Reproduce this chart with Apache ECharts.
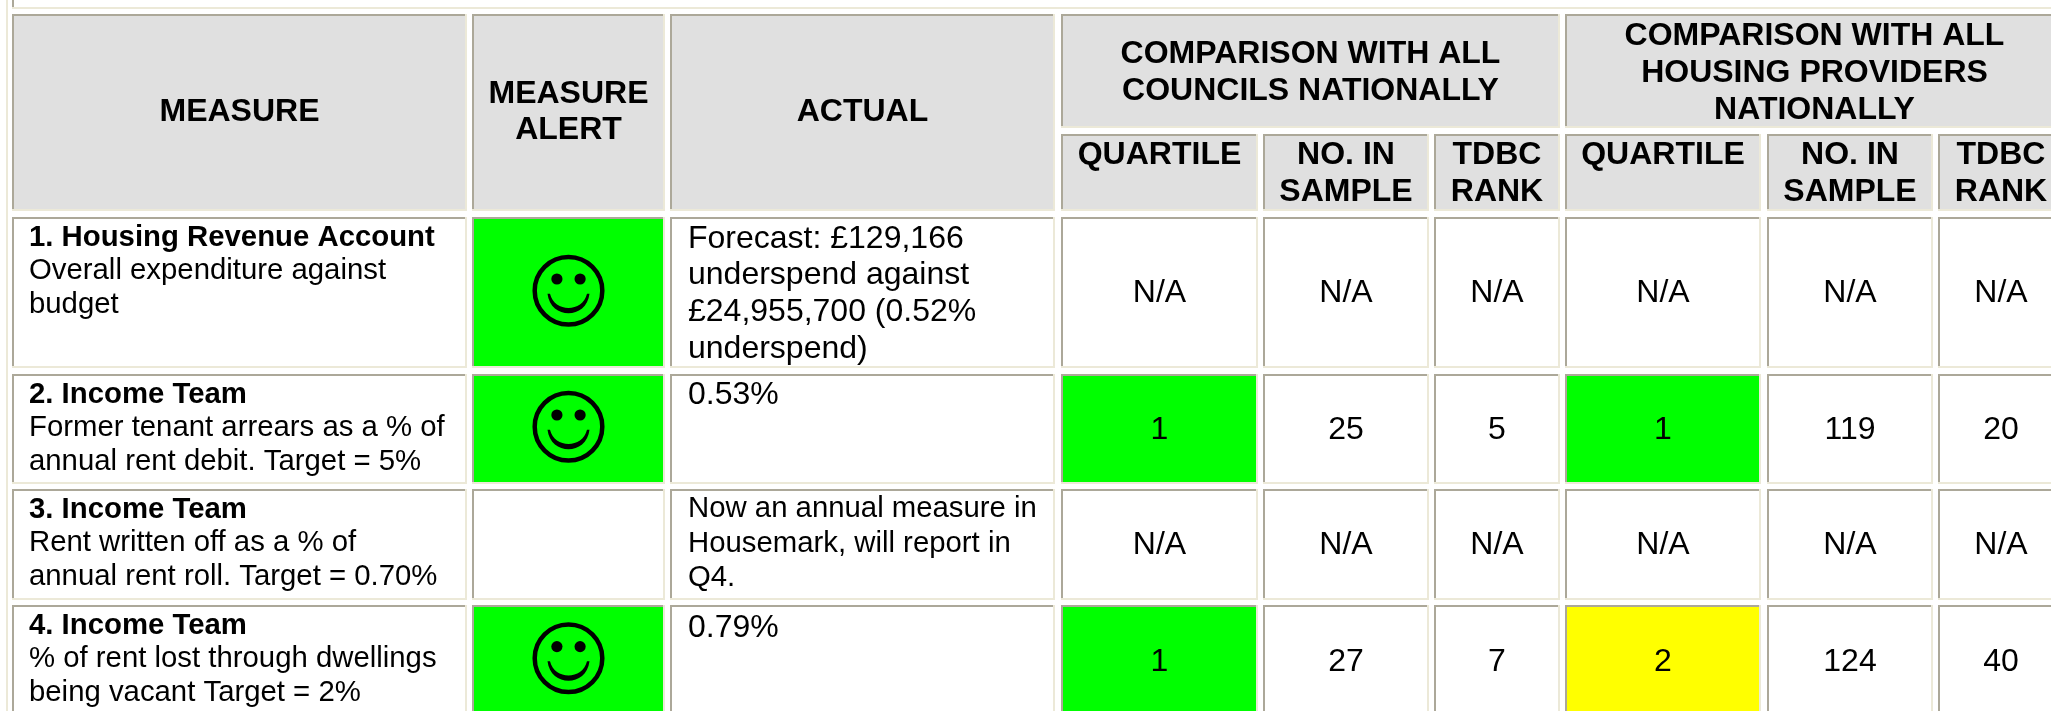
<!DOCTYPE html>
<html>
<head>
<meta charset="utf-8">
<title>Housing measures</title>
<script src="https://cdn.jsdelivr.net/npm/echarts@6/dist/echarts.min.js"></script>
<style>
  html, body { margin: 0; padding: 0; background: #fff; overflow: hidden; }
  #main { width: 2051px; height: 711px; }
</style>
</head>
<body>
<div id="main"></div>
<script>
// table content
const topHeaders = ['MEASURE', ['MEASURE', 'ALERT'], 'ACTUAL'];
const groupHeaders = [
  ['COMPARISON WITH ALL', 'COUNCILS NATIONALLY'],
  ['COMPARISON WITH ALL', 'HOUSING PROVIDERS', 'NATIONALLY']
];
const subHeaders = [['QUARTILE'], ['NO. IN', 'SAMPLE'], ['TDBC', 'RANK']];

const measureTitles = ['1. Housing Revenue Account', '2. Income Team', '3. Income Team', '4. Income Team'];
const measureDetails = [
  ['Overall expenditure against', 'budget'],
  ['Former tenant arrears as a % of', 'annual rent debit. Target = 5%'],
  ['Rent written off as a % of', 'annual rent roll. Target = 0.70%'],
  ['% of rent lost through dwellings', 'being vacant Target = 2%']
];
const measureAlerts = [true, true, false, true];
const actuals = [
  ['Forecast: £129,166', 'underspend against', '£24,955,700 (0.52%', 'underspend)'],
  ['0.53%'],
  ['Now an annual measure in', 'Housemark, will report in', 'Q4.'],
  ['0.79%']
];
const councilQuartile = ['N/A', '1', 'N/A', '1'];
const councilSample = ['N/A', '25', 'N/A', '27'];
const councilRank = ['N/A', '5', 'N/A', '7'];
const housingQuartile = ['N/A', '1', 'N/A', '2'];
const housingSample = ['N/A', '119', 'N/A', '124'];
const housingRank = ['N/A', '20', 'N/A', '40'];

// cell layout, in pixels of the page
const colEdges = [[12, 467], [472, 665], [670, 1055], [1061, 1258], [1263, 1429], [1434, 1560], [1565, 1761], [1767, 1933], [1938, 2064]];
const rowEdges = [[217, 368], [374, 484], [489, 600], [605, 720]];
const headEdges = { top: 14, groupBottom: 128, subTop: 134, bottom: 211 };
const valueMiddles = [292.3, 429, 544, 661];
const smileMiddles = [290.7, 426.7, 0, 658.3];
const actualFirstLines = [237.5, 394, 508, 626.7];
const GRAY = '#aca899', CREAM = '#ece9d8', HEAD = '#e0e0e0';
const GREEN = '#00ff00', YELLOW = '#ffff00';
const FONT = '"Liberation Sans", Arial, sans-serif';
const BIG = 32, SMALL = 29.33;
const TEXT_SHIFT = 1.3; // caps sit a little high with verticalAlign middle
const quartileColors = { '1': GREEN, '2': YELLOW };

const cells = [];
function addCell(x0, y0, x1, y1, fill, texts, smile) {
  cells.push({ x0, y0, x1, y1, fill, texts: texts || [], smile });
}
function linesAt(lines, x, firstY, step, size, bold, align) {
  return lines.map((t, i) => ({ t, x, y: firstY + i * step, size, bold, align: align || 'center' }));
}
function mid(e) { return (e[0] + e[1]) / 2; }

// header
topHeaders.forEach((h, i) => {
  const lines = Array.isArray(h) ? h : [h];
  addCell(colEdges[i][0], headEdges.top, colEdges[i][1], headEdges.bottom, HEAD,
    linesAt(lines, mid(colEdges[i]), lines.length === 1 ? 110.7 : 92.5, 36, BIG, true));
});
[[3, 5, 52.8, 36.7], [6, 8, 34.5, 37]].forEach((g, i) => {
  const x0 = colEdges[g[0]][0], x1 = colEdges[g[1]][1];
  addCell(x0, headEdges.top, x1, headEdges.groupBottom, HEAD,
    linesAt(groupHeaders[i], (x0 + x1) / 2, g[2], g[3], BIG, true));
});
for (let i = 3; i < 9; i++) {
  addCell(colEdges[i][0], headEdges.subTop, colEdges[i][1], headEdges.bottom, HEAD,
    linesAt(subHeaders[(i - 3) % 3], mid(colEdges[i]), 154, 37, BIG, true));
}

// body
const valueCols = [councilQuartile, councilSample, councilRank, housingQuartile, housingSample, housingRank];
rowEdges.forEach((r, i) => {
  const top = r[0] + 19.2;
  addCell(colEdges[0][0], r[0], colEdges[0][1], r[1], '#fff', [
    { t: measureTitles[i], x: 29, y: top, size: SMALL, bold: true, align: 'left' },
    ...linesAt(measureDetails[i], 29, top + 33.5, 33.5, SMALL, false, 'left')
  ]);
  addCell(colEdges[1][0], r[0], colEdges[1][1], r[1], measureAlerts[i] ? GREEN : '#fff', [],
    measureAlerts[i] ? smileMiddles[i] : null);
  const actualSize = actuals[i].length === 3 ? SMALL : BIG;
  addCell(colEdges[2][0], r[0], colEdges[2][1], r[1], '#fff',
    linesAt(actuals[i], 688, actualFirstLines[i], i === 0 ? 36.7 : 34.2, actualSize, false, 'left'));
  valueCols.forEach((col, j) => {
    const isQuartile = j % 3 === 0;
    addCell(colEdges[j + 3][0], r[0], colEdges[j + 3][1], r[1],
      isQuartile && quartileColors[col[i]] ? quartileColors[col[i]] : '#fff',
      [{ t: col[i], x: mid(colEdges[j + 3]), y: valueMiddles[i], size: BIG, bold: false, align: 'center' }]);
  });
});

const SMILE_MOUTH = 'M-21,3 C-18,29 18,29 21,3 L18.5,3 C14,22 -14,22 -18.5,3 Z';

function renderCell(params, api) {
  const c = cells[params.dataIndex];
  const a = api.coord([c.x0, c.y0]);
  const b = api.coord([c.x1, c.y1]);
  const w = b[0] - a[0], h = b[1] - a[1];
  const children = [
    { type: 'rect', shape: { x: a[0], y: a[1], width: w, height: h }, style: { fill: CREAM } },
    { type: 'rect', shape: { x: a[0], y: a[1], width: w - 2, height: h - 2 }, style: { fill: GRAY } },
    { type: 'rect', shape: { x: a[0] + 2, y: a[1] + 2, width: w - 4, height: h - 4 }, style: { fill: c.fill } }
  ];
  if (c.smile) {
    const cx = a[0] + w / 2;
    const cy = api.coord([0, c.smile])[1];
    children.push(
      { type: 'circle', shape: { cx, cy, r: 33.8 }, style: { fill: 'none', stroke: '#000', lineWidth: 4.5 } },
      { type: 'circle', shape: { cx: cx - 11.6, cy: cy - 11.7, r: 5.6 }, style: { fill: '#000' } },
      { type: 'circle', shape: { cx: cx + 11.6, cy: cy - 11.7, r: 5.6 }, style: { fill: '#000' } },
      { type: 'path', shape: { pathData: SMILE_MOUTH, layout: 'cover', x: cx - 21, y: cy + 3, width: 42, height: 19.5 }, style: { fill: '#000' } }
    );
  }
  c.texts.forEach(l => {
    const p = api.coord([l.x, l.y + TEXT_SHIFT]);
    children.push({
      type: 'text',
      x: p[0], y: p[1],
      style: {
        text: l.t,
        font: (l.bold ? 'bold ' : '') + l.size + 'px ' + FONT,
        fill: '#000',
        align: l.align,
        verticalAlign: 'middle'
      }
    });
  });
  return { type: 'group', children };
}

const chart = echarts.init(document.getElementById('main'), null, { renderer: 'canvas' });
chart.setOption({
  animation: false,
  backgroundColor: '#fff',
  grid: { left: 0, right: 0, top: 0, bottom: 0 },
  xAxis: { type: 'value', min: 0, max: 2051, show: false },
  yAxis: { type: 'value', min: 0, max: 711, inverse: true, show: false },
  series: [
    {
      // the cut-off box above the table and the outer rule on the left
      type: 'custom',
      silent: true,
      data: [[0, 0]],
      renderItem(params, api) {
        const p = api.coord([6, 0]);
        const q = api.coord([12, 7]);
        return {
          type: 'group',
          children: [
            { type: 'rect', shape: { x: p[0], y: p[1], width: 2, height: 711 }, style: { fill: CREAM } },
            { type: 'rect', shape: { x: q[0], y: 0, width: 2, height: q[1] }, style: { fill: GRAY } },
            { type: 'rect', shape: { x: q[0], y: q[1], width: 2051, height: 2 }, style: { fill: CREAM } }
          ]
        };
      }
    },
    {
      type: 'custom',
      silent: true,
      data: cells.map(c => [c.x0, c.y0, c.x1, c.y1]),
      renderItem: renderCell
    }
  ]
});
</script>
</body>
</html>
